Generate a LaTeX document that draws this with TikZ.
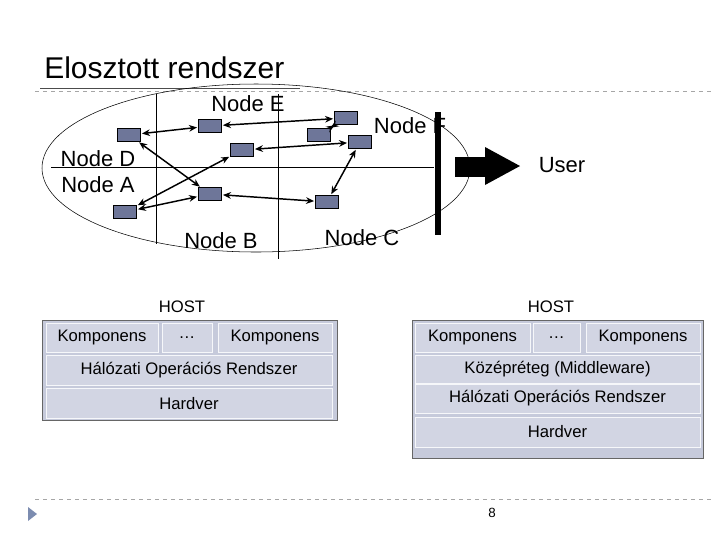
\documentclass[tikz,border=0pt]{standalone}
\usepackage{fontspec}
\setmainfont{Liberation Sans}
\usetikzlibrary{positioning,arrows.meta}
\definecolor{slate}{HTML}{6E7699}
\definecolor{hostfill}{HTML}{C6CADB}
\definecolor{cellfill}{HTML}{D2D5E3}
\definecolor{marker}{HTML}{7C8CB0}
\begin{document}
\begin{tikzpicture}[x=0.75pt,y=-0.75pt]
  \tikzset{pc/.style={draw=black,fill=slate,minimum width=17pt,minimum height=9.5pt,inner sep=0pt},
           link/.style={{Stealth[length=6pt,width=5pt]}-{Stealth[length=6pt,width=5pt]},line width=1.1pt,shorten <=1pt,shorten >=1pt},
           lbl/.style={font=\fontsize{16.5}{18}\selectfont,inner sep=0pt},
           host/.style={draw=gray!80!black,fill=hostfill},
           cell/.style={draw=white!85!hostfill,fill=cellfill,inner sep=0pt,font=\fontsize{12.5}{14}\selectfont}}
  \useasboundingbox (0,0) rectangle (720,540);
  % title and rules
  \node [anchor=west,font=\fontsize{22.5}{24}\selectfont,inner sep=0pt] (title) at (44,68) {Elosztott rendszer};
  \draw [gray!70,dashed] (35,91) -- (712,91);
  \draw [gray!60!black] (40,88) -- (300,88);
  \draw [gray!70,dashed] (35,499) -- (712,499);
  \fill [marker] (28,507) -- (37,514) -- (28,521) -- cycle;
  \node [font=\fontsize{10}{12}\selectfont] (page) at (492,513) {8};
  % network
  \draw (256,168) ellipse [x radius=214,y radius=84];
  \draw (156,94) -- (156,244);
  \draw (278,94) -- (278,259);
  \draw (51,167.5) -- (434,167.5);
  \node [lbl] (lE) at (248,104) {Node E};
  \node [lbl] (lD) at (98,159) {Node D};
  \node [lbl] (lA) at (98,185) {Node A};
  \node [lbl] (lB) at (221,241) {Node B};
  \node [lbl] (lC) at (362,238) {Node C};
  \node [lbl] (lF) at (410,126) {Node F};
  \fill (435,112) rectangle (441,235);
  \fill (455,157) rectangle (486,177);
  \fill (485,147) -- (520,166) -- (485,185) -- cycle;
  \node [lbl] (user) at (562,165) {User};
  \node [pc] (d) at (129,135) {};
  \node [pc] (e1) at (210,126) {};
  \node [pc] (e2) at (346,118) {};
  \node [pc] (e3) at (319,135) {};
  \node [pc] (f) at (360,142) {};
  \node [pc] (m) at (242,150) {};
  \node [pc] (b) at (210,194) {};
  \node [pc] (a) at (125,212) {};
  \node [pc] (c) at (327,202) {};
  \draw [link] (d) -- (e1);
  \draw [link] (e1) -- (e2);
  \draw [link] (e2) -- (e3);
  \draw [link] (m) -- (f);
  \draw [link] (d) -- (b);
  \draw [link] (a) -- (m);
  \draw [link] (a) -- (b);
  \draw [link] (b) -- (c);
  \draw [link] (c) -- (f);
  % left host
  \node [font=\fontsize{12.5}{14}\selectfont] (host1) at (182,307) {HOST};
  \draw [host] (42,320) rectangle (337,420);
  \node [cell,minimum width=84pt,minimum height=21.75pt] (k1) at (102,337.5) {Komponens};
  \node [cell,minimum width=37.5pt,minimum height=21.75pt] (dots1) at (187,337.5) {…};
  \node [cell,minimum width=85.5pt,minimum height=21.75pt] (k2) at (275,337.5) {Komponens};
  \node [cell,minimum width=214.5pt,minimum height=22.5pt] (nos1) at (189,370) {Hálózati Operációs Rendszer};
  \node [cell,minimum width=214.5pt,minimum height=22.5pt] (hw1) at (189,403.5) {Hardver};
  % right host
  \node [font=\fontsize{12.5}{14}\selectfont] (host2) at (551,307) {HOST};
  \draw [host] (412,320) rectangle (703,458);
  \node [cell,minimum width=86.25pt,minimum height=21.75pt] (k3) at (472.5,337.5) {Komponens};
  \node [cell,minimum width=35.25pt,minimum height=21.75pt] (dots2) at (556.5,337.5) {…};
  \node [cell,minimum width=85.5pt,minimum height=21.75pt] (k4) at (643,337.5) {Komponens};
  \node [cell,minimum width=213.75pt,minimum height=21pt] (mw) at (557.5,369) {Középréteg (Middleware)};
  \node [cell,minimum width=213.75pt,minimum height=21.75pt] (nos2) at (557.5,398.5) {Hálózati Operációs Rendszer};
  \node [cell,minimum width=213.75pt,minimum height=22.5pt] (hw2) at (557.5,432) {Hardver};
\end{tikzpicture}
\end{document}
